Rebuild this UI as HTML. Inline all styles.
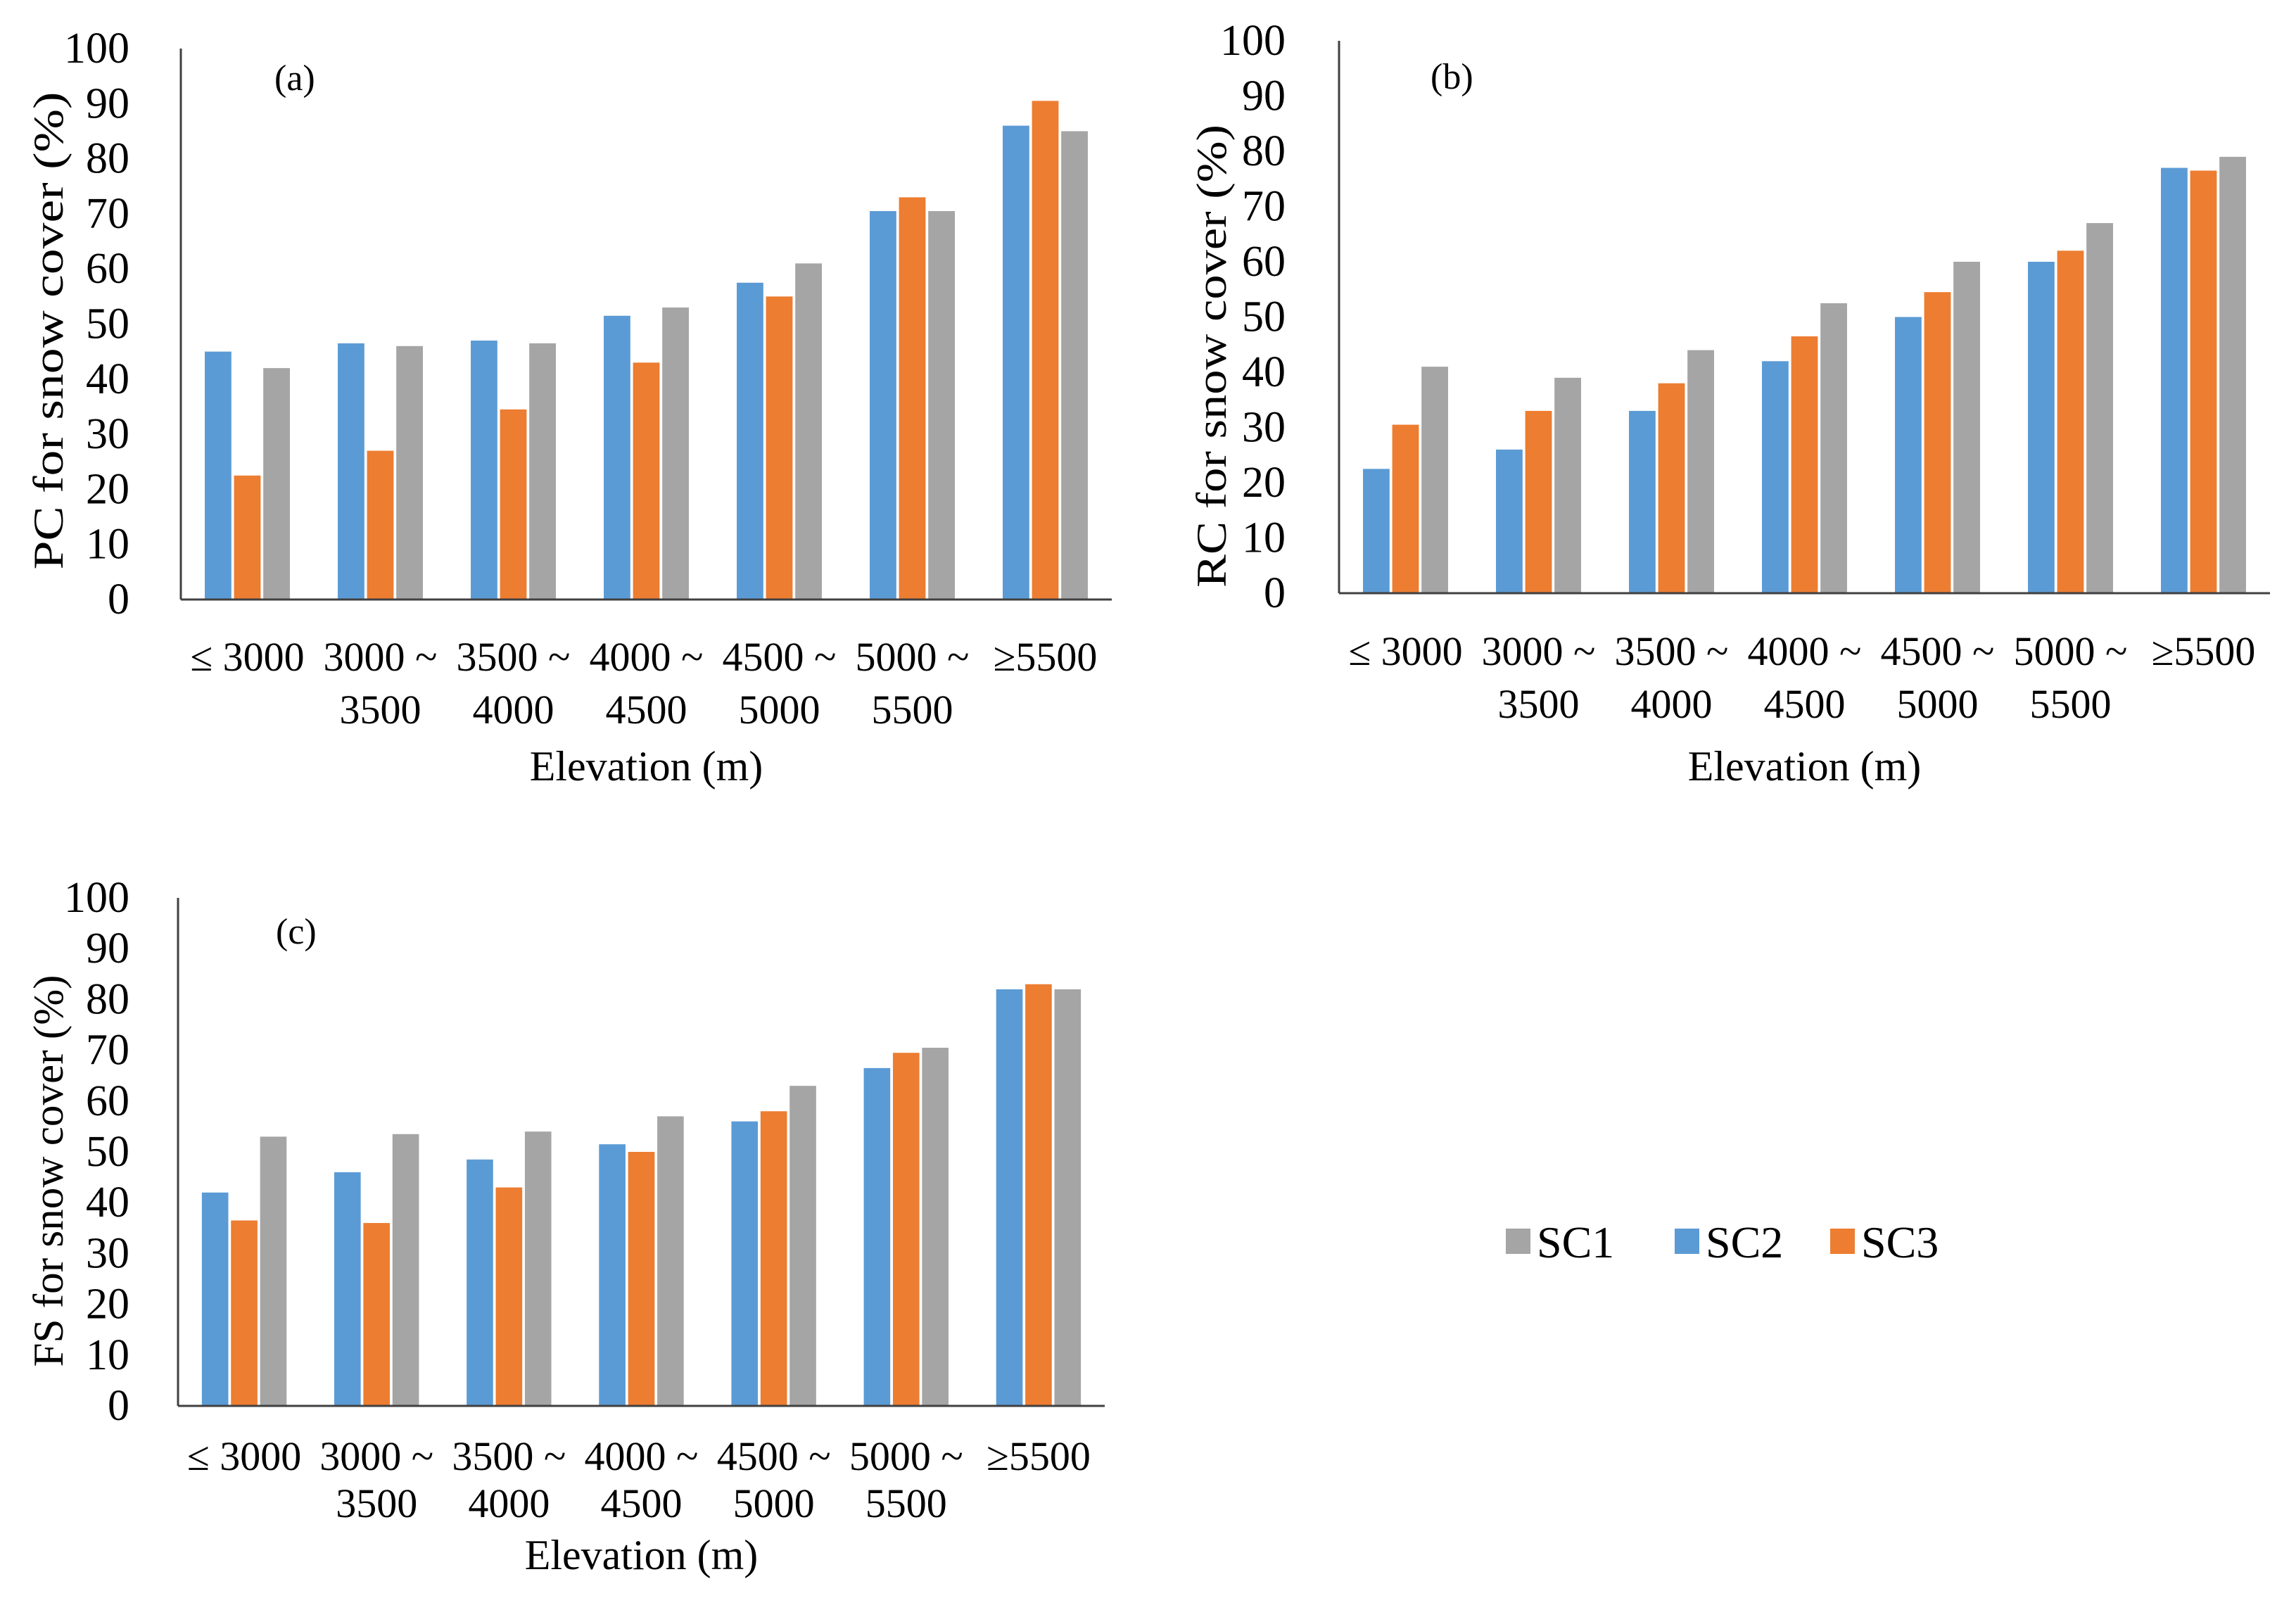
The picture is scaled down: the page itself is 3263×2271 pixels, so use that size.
<!DOCTYPE html>
<html><head><meta charset="utf-8"><style>
html,body{margin:0;padding:0;background:#fff;}
svg{display:block;font-family:"Liberation Serif",serif;}
</style></head><body>
<svg id="chart" width="3263" height="2271" viewBox="0 0 3263 2271" xmlns="http://www.w3.org/2000/svg"></svg>
<script>
const categoriesLine1 = ["≤ 3000","3000 ~","3500 ~","4000 ~","4500 ~","5000 ~","≥5500"];
const categoriesLine2 = ["","3500","4000","4500","5000","5500",""];
const yTicks = [0,10,20,30,40,50,60,70,80,90,100];
const seriesNames = ["SC2","SC3","SC1"];
const pcSC2 = [45,46.5,47,51.5,57.5,70.5,86];
const pcSC3 = [22.5,27,34.5,43,55,73,90.5];
const pcSC1 = [42,46,46.5,53,61,70.5,85];
const rcSC2 = [22.5,26,33,42,50,60,77];
const rcSC3 = [30.5,33,38,46.5,54.5,62,76.5];
const rcSC1 = [41,39,44,52.5,60,67,79];
const fsSC2 = [42,46,48.5,51.5,56,66.5,82];
const fsSC3 = [36.5,36,43,50,58,69.5,83];
const fsSC1 = [53,53.5,54,57,63,70.5,82];
const legendNames = ["SC1","SC2","SC3"];

const colors = {SC1:"#a5a5a5", SC2:"#5b9bd5", SC3:"#ed7d31"};
const NS = "http://www.w3.org/2000/svg";
const svg = document.getElementById("chart");
function mk(tag, attrs, parent){const e=document.createElementNS(NS,tag);for(const k in attrs)e.setAttribute(k,attrs[k]);(parent||svg).appendChild(e);return e;}

function panel(cfg){
  const g = mk("g",{});
  
  
  const {x0,x1,yTop,yBase} = cfg;
  const yS = v => yBase - (v/100)*(yBase-yTop);
  const cw = (x1-x0)/categoriesLine1.length;
  const bw = cw*0.2, gap = cw*0.02;
  yTicks.forEach(t=>{
    const tx = mk("text",{x:cfg.labelX,y:yS(t)+20,"text-anchor":"end","font-size":62,fill:"#000"},g);
    tx.textContent = t;
    
    
  });
  const data = cfg.data;
  categoriesLine1.forEach((c,i)=>{
    const cx = x0 + cw*(i+0.5);
    data.forEach((arr,s)=>{
      const bx = cx + (s-1)*(bw+gap) - bw/2;
      const r = mk("rect",{x:bx,y:yS(arr[i]),width:bw,height:yBase-yS(arr[i]),fill:colors[seriesNames[s]]},g);
      
      
    });
    const l1 = mk("text",{x:cx,y:cfg.l1y+20,"text-anchor":"middle","font-size":58,fill:"#000"},g);
    l1.textContent = c;
    
    
    if(categoriesLine2[i]){
      const l2 = mk("text",{x:cx,y:cfg.l2y+20,"text-anchor":"middle","font-size":58,fill:"#000"},g);
      l2.textContent = categoriesLine2[i];
      
      
    }
  });
  const ya = mk("line",{x1:x0,y1:yTop,x2:x0,y2:yBase,stroke:"#404040","stroke-width":3},g);
  
  
  const xa = mk("line",{x1:x0,y1:yBase,x2:x1,y2:yBase,stroke:"#404040","stroke-width":3},g);
  
  
  const xt = mk("text",{x:(x0+x1)/2,y:cfg.titleY+21,"text-anchor":"middle","font-size":60,fill:"#000"},g);
  xt.textContent = "Elevation (m)";
  
  
  const yt = mk("text",{x:0,y:0,"text-anchor":"middle","font-size":60,fill:"#000",transform:`translate(${cfg.ytX+20},${cfg.ytY}) rotate(-90)`,textLength:cfg.ytLen,lengthAdjust:"spacingAndGlyphs"},g);
  yt.textContent = cfg.yTitle;
  
  
  const pl = mk("text",{x:cfg.plX,y:cfg.plY+17,"text-anchor":"start","font-size":52,fill:"#000"},g);
  pl.textContent = cfg.label;
  
  
}

panel({name:"panel-a",x0:257,x1:1580,yTop:69,yBase:852,labelX:184,data:[pcSC2,pcSC3,pcSC1],l1y:933,l2y:1008,titleY:1088,ytX:69,ytY:470,ytLen:679,yTitle:"PC for snow cover  (%)",plX:390,plY:111,label:"(a)"});
panel({name:"panel-b",x0:1903,x1:3226,yTop:58,yBase:843,labelX:1827,data:[rcSC2,rcSC3,rcSC1],l1y:925,l2y:1000,titleY:1088,ytX:1722,ytY:506,ytLen:658,yTitle:"RC for snow cover (%)",plX:2033,plY:109,label:"(b)"});
panel({name:"panel-c",x0:253,x1:1570,yTop:1276,yBase:1998,labelX:184,data:[fsSC2,fsSC3,fsSC1],l1y:2069,l2y:2136,titleY:2209,ytX:69,ytY:1664,ytLen:557,yTitle:"FS for snow cover (%)",plX:392,plY:1324,label:"(c)"});

const legX = [2140,2380,2601];
const lg = mk("g",{});


legendNames.forEach((n,i)=>{
  const r = mk("rect",{x:legX[i],y:1746,width:35,height:36,fill:colors[n]},lg);
  
  
  const t = mk("text",{x:legX[i]+44,y:1787,"font-size":64,fill:"#000"},lg);
  t.textContent = n;
  
  
});
</script>
</body></html>
